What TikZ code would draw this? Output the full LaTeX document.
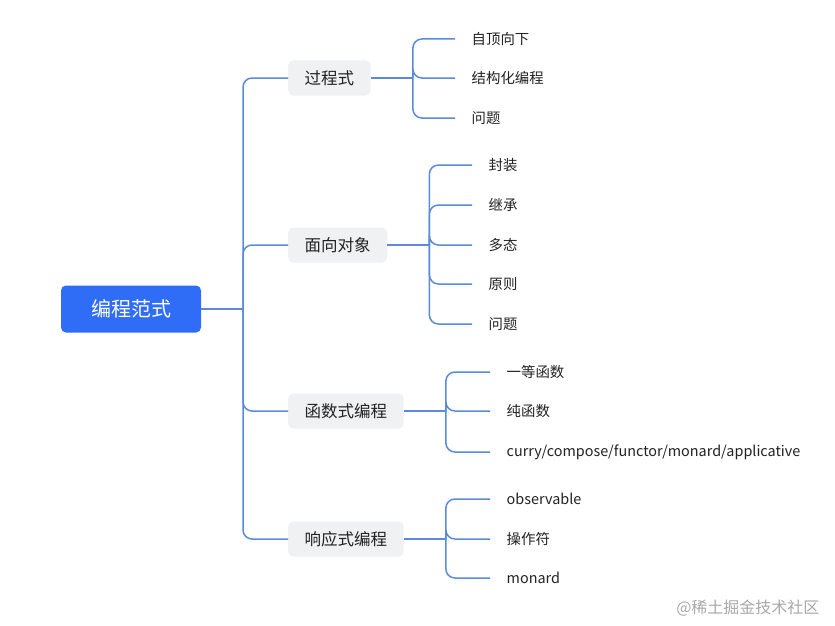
\documentclass[tikz,border=0pt]{standalone}
\usepackage{fontspec}
\setmainfont{Noto Sans CJK SC}
\definecolor{rootblue}{HTML}{2F6DF6}
\definecolor{topicgray}{HTML}{EFF1F3}
\definecolor{linkblue}{HTML}{5A8BDB}
\definecolor{inkgray}{HTML}{222222}
\definecolor{markgray}{HTML}{A8A8A8}
\begin{document}
\begin{tikzpicture}[
    x=1pt, y=-1pt,
    root/.style={
        fill=rootblue,
        text=white,
        rounded corners=5pt,
        minimum width=140pt,
        minimum height=47pt,
        font=\fontsize{20}{24}\selectfont
    },
    topic/.style={
        fill=topicgray,
        text=inkgray,
        rounded corners=5pt,
        anchor=west,
        inner xsep=16.5pt,
        minimum height=35pt,
        font=\fontsize{16.5}{20}\selectfont
    },
    leaf/.style={
        anchor=west,
        inner xsep=16.5pt,
        inner ysep=2pt,
        text=inkgray,
        font=\fontsize{14.4}{18}\selectfont
    },
    link/.style={linkblue, line width=1.5pt, rounded corners=9pt}
]
    \useasboundingbox (0,0) rectangle (835,626);

    % root and main topics
    \node[root] (paradigm) at (131,309) {编程范式};
    \node[topic] (proc) at (288,78) {过程式};
    \node[topic] (oop) at (288,245) {面向对象};
    \node[topic] (func) at (288,411) {函数式编程};
    \node[topic] (react) at (288,539) {响应式编程};

    % leaves
    \node[leaf] (proc1) at (455,39) {自顶向下};
    \node[leaf] (proc2) at (455,78) {结构化编程};
    \node[leaf] (proc3) at (455,118) {问题};

    \node[leaf] (oop1) at (472,165) {封装};
    \node[leaf] (oop2) at (472,205) {继承};
    \node[leaf] (oop3) at (472,245) {多态};
    \node[leaf] (oop4) at (472,284) {原则};
    \node[leaf] (oop5) at (472,324) {问题};

    \node[leaf] (func1) at (490,372) {一等函数};
    \node[leaf] (func2) at (490,411) {纯函数};
    \node[leaf] (func3) at (490,452) {curry/compose/functor/monard/applicative};

    \node[leaf] (react1) at (490,499) {observable};
    \node[leaf] (react2) at (490,539) {操作符};
    \node[leaf] (react3) at (490,578) {monard};

    % branch points
    \coordinate (trunk) at (243,309);
    \coordinate (procbar) at ([xshift=42pt]proc.east);
    \coordinate (oopbar) at ([xshift=42pt]oop.east);
    \coordinate (funcbar) at ([xshift=42pt]func.east);
    \coordinate (reactbar) at ([xshift=42pt]react.east);

    \draw[link] (paradigm.east) -- (trunk);
    \foreach \t in {proc,oop,func,react}
        \draw[link] (trunk) |- (\t.west);

    \draw[link] (proc.east) -- (procbar);
    \foreach \l in {1,2,3}
        \draw[link] (procbar) |- (proc\l.west);
    \draw[link] (oop.east) -- (oopbar);
    \foreach \l in {1,...,5}
        \draw[link] (oopbar) |- (oop\l.west);
    \draw[link] (func.east) -- (funcbar);
    \foreach \l in {1,2,3}
        \draw[link] (funcbar) |- (func\l.west);
    \draw[link] (react.east) -- (reactbar);
    \foreach \l in {1,2,3}
        \draw[link] (reactbar) |- (react\l.west);

    \node[text=markgray, font=\fontsize{16}{19}\selectfont, anchor=east] (mark) at (823,608) {@稀土掘金技术社区};
\end{tikzpicture}
\end{document}
